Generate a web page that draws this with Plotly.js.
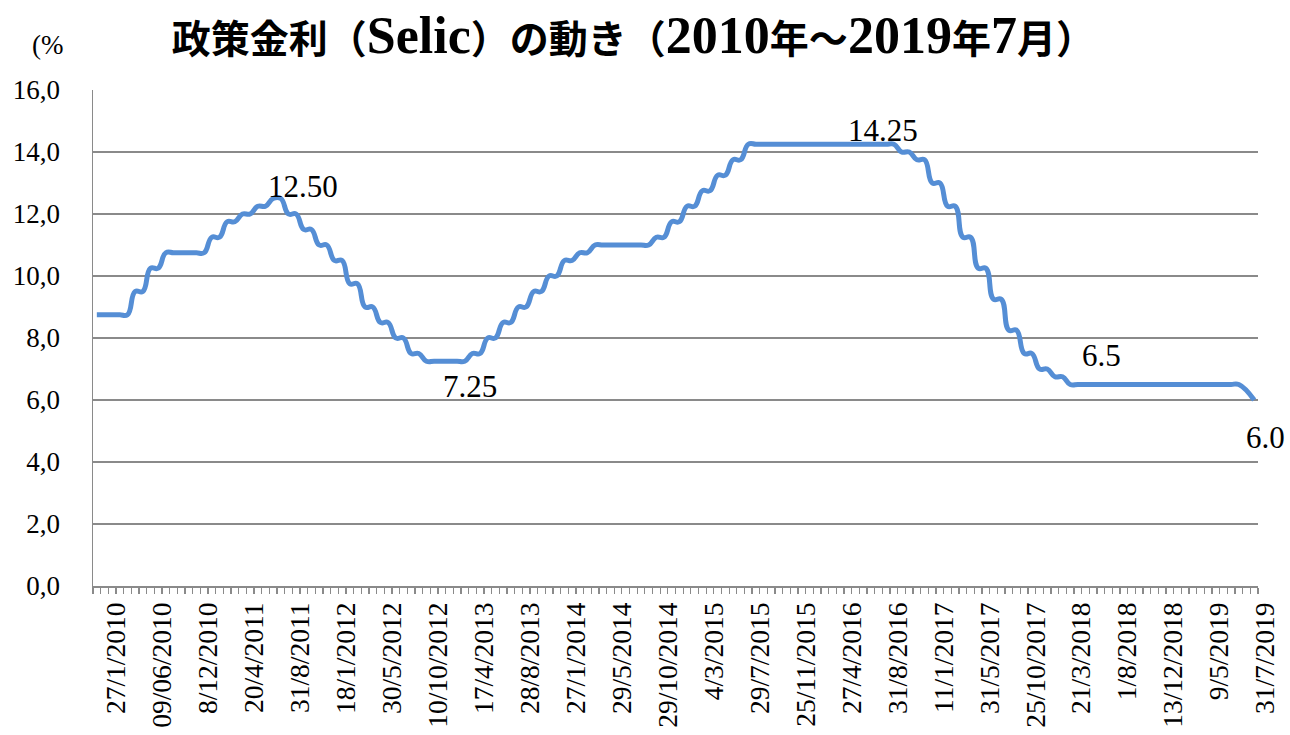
<!DOCTYPE html>
<html>
<head>
<meta charset="utf-8">
<script src="https://cdn.plot.ly/plotly-3.0.1.min.js"></script>
<style>
  html, body { margin: 0; padding: 0; background: #ffffff; }
  #chart { width: 1290px; height: 735px; }
</style>
</head>
<body>
<div id="chart"></div>
<script>
// ---- DATA ----
// Selic rate, two category slots per Copom meeting (rate before, rate after)
const rates = [
  // 2010
  8.75, 8.75,  8.75, 8.75,  8.75, 9.5,  9.5, 10.25,  10.25, 10.75,  10.75, 10.75,  10.75, 10.75,
  // 2011
  10.75, 11.25,  11.25, 11.75,  11.75, 12.0,  12.0, 12.25,  12.25, 12.5,  12.5, 12.0,  12.0, 11.5,  11.5, 11.0,
  // 2012
  11.0, 10.5,  10.5, 9.75,  9.75, 9.0,  9.0, 8.5,  8.5, 8.0,  8.0, 7.5,  7.5, 7.25,  7.25, 7.25,
  // 2013
  7.25, 7.25,  7.25, 7.5,  7.5, 8.0,  8.0, 8.5,  8.5, 9.0,  9.0, 9.5,  9.5, 10.0,
  // 2014
  10.0, 10.5,  10.5, 10.75,  10.75, 11.0,  11.0, 11.0,  11.0, 11.0,  11.0, 11.0,  11.0, 11.25,  11.25, 11.75,
  // 2015
  11.75, 12.25,  12.25, 12.75,  12.75, 13.25,  13.25, 13.75,  13.75, 14.25,  14.25, 14.25,  14.25, 14.25,  14.25, 14.25,
  // 2016
  14.25, 14.25,  14.25, 14.25,  14.25, 14.25,  14.25, 14.25,  14.25, 14.25,  14.25, 14.25,  14.25, 14.0,  14.0, 13.75,
  // 2017
  13.75, 13.0,  13.0, 12.25,  12.25, 11.25,  11.25, 10.25,  10.25, 9.25,  9.25, 8.25,  8.25, 7.5,  7.5, 7.0,
  // 2018
  7.0, 6.75,  6.75, 6.5,  6.5, 6.5,  6.5, 6.5,  6.5, 6.5,  6.5, 6.5,  6.5, 6.5,  6.5, 6.5,
  // 2019
  6.5, 6.5,  6.5, 6.5,  6.5, 6.5,  6.5, 6.5,  6.5, 6.5,  null, 6.0
];

// Date labels shown on the category axis (every 6th category slot)
const tickLabels = [
  '27/1/2010', '09/06/2010', '8/12/2010', '20/4/2011', '31/8/2011', '18/1/2012',
  '30/5/2012', '10/10/2012', '17/4/2013', '28/8/2013', '27/1/2014', '29/5/2014',
  '29/10/2014', '4/3/2015', '29/7/2015', '25/11/2015', '27/4/2016', '31/8/2016',
  '11/1/2017', '31/5/2017', '25/10/2017', '21/3/2018', '1/8/2018', '13/12/2018',
  '9/5/2019', '31/7/2019'
];
const tickLabelSlots = [0, 6, 12, 18, 24, 30, 36, 42, 48, 54, 60, 66, 72, 78, 84, 90,
                        96, 102, 108, 114, 120, 126, 132, 138, 144, 150];

// Data labels
const labelTexts = ['12.50', '7.25', '14.25', '6.5', '6.0'];
const labelSlots = [24, 48, 102, 131, 151];

const yTicks = [0, 2, 4, 6, 8, 10, 12, 14, 16];

// ---- STYLE ----
const gray = '#8a8a8a';
const serif = 'Liberation Serif';
const labelShifts = [[22, 12.5], [5, -25], [4, 14], [1, 29.5], [11, -37]];

const slots = rates.map((_, i) => i);

const trace = {
  x: slots,
  y: rates,
  type: 'scatter',
  mode: 'lines',
  connectgaps: true,
  line: { color: '#558ED5', width: 5, shape: 'spline', smoothing: 1.3 },
  hoverinfo: 'skip'
};

const annotations = labelTexts.map((t, k) => ({
  x: labelSlots[k],
  y: rates[labelSlots[k]],
  xref: 'x', yref: 'y',
  text: t,
  showarrow: false,
  xanchor: 'center', yanchor: 'middle',
  xshift: labelShifts[k][0],
  yshift: labelShifts[k][1],
  font: { family: serif, size: 31, color: '#000' }
}));

annotations.push({
  xref: 'paper', yref: 'paper',
  x: -0.039, y: 1.09,
  xanchor: 'center', yanchor: 'middle',
  text: '(%',
  showarrow: false,
  font: { family: serif, size: 27, color: '#000' }
});

const L = (s) => '<span style="font-family:Liberation Serif;font-size:52px">' + s + '</span>';
const titleText = '<b>政策金利（' + L('Selic') + '）の動き（' + L('2010') + '年～' + L('2019') + '年' + L('7') + '月）</b>';

const layout = {
  width: 1290,
  height: 735,
  margin: { l: 93, r: 32, t: 90, b: 149 },
  paper_bgcolor: '#ffffff',
  plot_bgcolor: '#ffffff',
  separators: ',.',
  showlegend: false,
  title: {
    text: titleText,
    font: { family: 'Noto Sans CJK JP', size: 39, color: '#000' },
    x: 0.491, xanchor: 'center', xref: 'container',
    y: 0.946, yanchor: 'middle', yref: 'container'
  },
  xaxis: {
    range: [-0.5, rates.length - 0.5],
    showline: true, linecolor: gray, linewidth: 1.5,
    showgrid: false, zeroline: false,
    tickmode: 'array',
    tickvals: tickLabelSlots,
    ticktext: tickLabels,
    ticks: '',
    tickangle: -90,
    ticklabelshift: 19,
    ticklabelstandoff: 4,
    tickfont: { family: serif, size: 27.5, color: '#000' },
    minor: { tickmode: 'linear', tick0: -0.5, dtick: 1, ticks: 'outside', ticklen: 6, tickwidth: 1.3, tickcolor: gray, showgrid: false },
    fixedrange: true
  },
  yaxis: {
    range: [0, 16],
    tickmode: 'array',
    tickvals: yTicks,
    tickformat: '.1f',
    showline: true, linecolor: gray, linewidth: 1.5,
    showgrid: true, gridcolor: gray, gridwidth: 1.3,
    zeroline: false,
    ticks: '',
    ticklabelstandoff: 26,
    tickfont: { family: serif, size: 27, color: '#000' },
    fixedrange: true
  },
  annotations: annotations
};

Plotly.newPlot('chart', [trace], layout, { displayModeBar: false, staticPlot: true });
</script>
</body>
</html>
